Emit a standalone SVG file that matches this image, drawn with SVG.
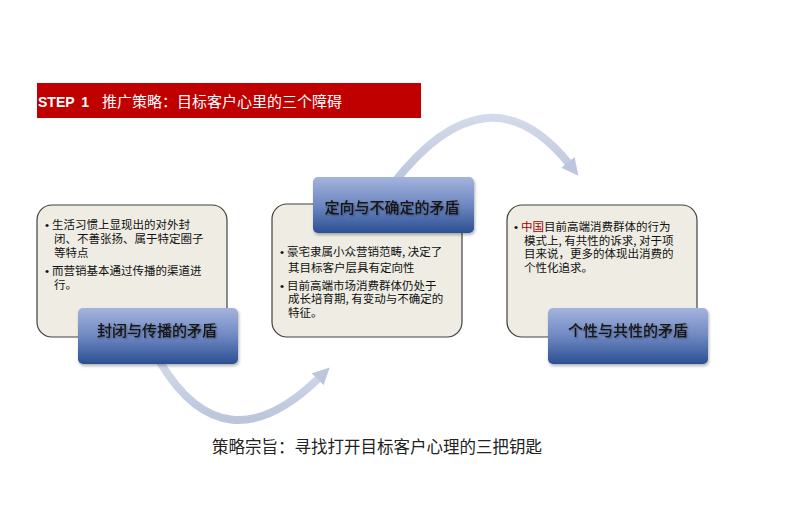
<svg xmlns="http://www.w3.org/2000/svg" width="786" height="527" viewBox="0 0 786 527">
<style>
.body{font-family:"Noto Sans CJK SC","Noto Sans",sans-serif;font-size:11.5px;fill:#111}
.bul{font-family:"Liberation Sans",Arial,sans-serif}
.head{font-family:"Noto Sans CJK SC","Noto Sans",sans-serif;font-size:15px;font-weight:500;fill:#141414;text-anchor:middle}
.card{fill:#EEECE3;stroke:#404040;stroke-width:1.2}
.hdr{fill:url(#blue);filter:url(#sh)}
.arc{fill:none;stroke:url(#arcg);stroke-width:8;marker-end:url(#ah)}
</style>
<defs>
<linearGradient id="blue" x1="0" y1="0" x2="0" y2="1">
<stop offset="0" stop-color="#A3B4DD"/>
<stop offset="0.5" stop-color="#6F88C2"/>
<stop offset="1" stop-color="#2B4F92"/>
</linearGradient>
<linearGradient id="arcg" x1="0" y1="0" x2="0" y2="1">
<stop offset="0" stop-color="#D3DAE9"/>
<stop offset="1" stop-color="#BBC6DC"/>
</linearGradient>
<filter id="sh" x="-10%" y="-10%" width="125%" height="135%">
<feDropShadow dx="1" dy="2" stdDeviation="1.5" flood-color="#000" flood-opacity="0.3"/>
</filter>
<filter id="tsh" x="-5%" y="-20%" width="115%" height="160%">
<feDropShadow dx="1" dy="1" stdDeviation="0.8" flood-color="#000" flood-opacity="0.4"/>
</filter>
<marker id="ah" viewBox="0 0 10 10" refX="2" refY="5" markerWidth="17" markerHeight="18" markerUnits="userSpaceOnUse" orient="auto">
<path d="M0,0 L10,5 L0,10 Z" fill="#BCC7DD"/>
</marker>
</defs>
<rect width="786" height="527" fill="#fff"/>
<g id="banner">
<rect x="37" y="83" width="384" height="35" fill="#C00000"/>
<text x="38" y="107" font-family="Liberation Sans,Arial,sans-serif" font-size="14" font-weight="bold" fill="#fff" word-spacing="3">STEP 1</text>
<text x="102" y="107" font-family="Noto Sans CJK SC,sans-serif" font-size="15" fill="#fff">推广策略：目标客户心里的三个障碍</text>
</g>
<g id="connectors">
<path class="arc" d="M393,184 Q488,62 570,165"/>
<path class="arc" d="M160,362 Q225,470 320,377"/>
</g>
<g id="node1">
<rect class="card" x="37" y="205" width="190" height="132" rx="15"/>
<text class="body" x="45" y="229"><tspan class="bul">•</tspan><tspan dx="3">生活习惯上显现出的对外封</tspan></text>
<text class="body" x="54" y="243">闭、不善张扬、属于特定圈子</text>
<text class="body" x="54" y="257">等特点</text>
<text class="body" x="45" y="275"><tspan class="bul">•</tspan><tspan dx="3">而营销基本通过传播的渠道进</tspan></text>
<text class="body" x="54" y="289">行。</text>
<rect class="hdr" x="78" y="308" width="160" height="56" rx="5"/>
<text class="head" x="157" y="336" filter="url(#tsh)">封闭与传播的矛盾</text>
</g>
<g id="node2">
<rect class="card" x="272" y="204" width="190" height="133" rx="15"/>
<rect class="hdr" x="313" y="177" width="161" height="56" rx="5"/>
<text class="head" x="392" y="213" filter="url(#tsh)">定向与不确定的矛盾</text>
<text class="body" x="280" y="256"><tspan class="bul">•</tspan><tspan dx="3">豪宅隶属小众营销范畴, 决定了</tspan></text>
<text class="body" x="288" y="272">其目标客户层具有定向性</text>
<text class="body" x="280" y="290"><tspan class="bul">•</tspan><tspan dx="3">目前高端市场消费群体仍处于</tspan></text>
<text class="body" x="288" y="303">成长培育期, 有变动与不确定的</text>
<text class="body" x="288" y="317">特征。</text>
</g>
<g id="node3">
<rect class="card" x="507" y="205" width="190" height="132" rx="15"/>
<text class="body" x="514" y="231"><tspan class="bul">•</tspan><tspan dx="3" fill="#A00000">中国</tspan>目前高端消费群体的行为</text>
<text class="body" x="524" y="245">模式上, 有共性的诉求, 对于项</text>
<text class="body" x="524" y="258">目来说，更多的体现出消费的</text>
<text class="body" x="524" y="272">个性化追求。</text>
<rect class="hdr" x="548" y="308" width="160" height="56" rx="5"/>
<text class="head" x="628" y="336" filter="url(#tsh)">个性与共性的矛盾</text>
</g>
<text id="motto" x="212" y="453" font-family="Noto Sans CJK SC,sans-serif" font-size="16.5" fill="#222">策略宗旨：寻找打开目标客户心理的三把钥匙</text>
</svg>
